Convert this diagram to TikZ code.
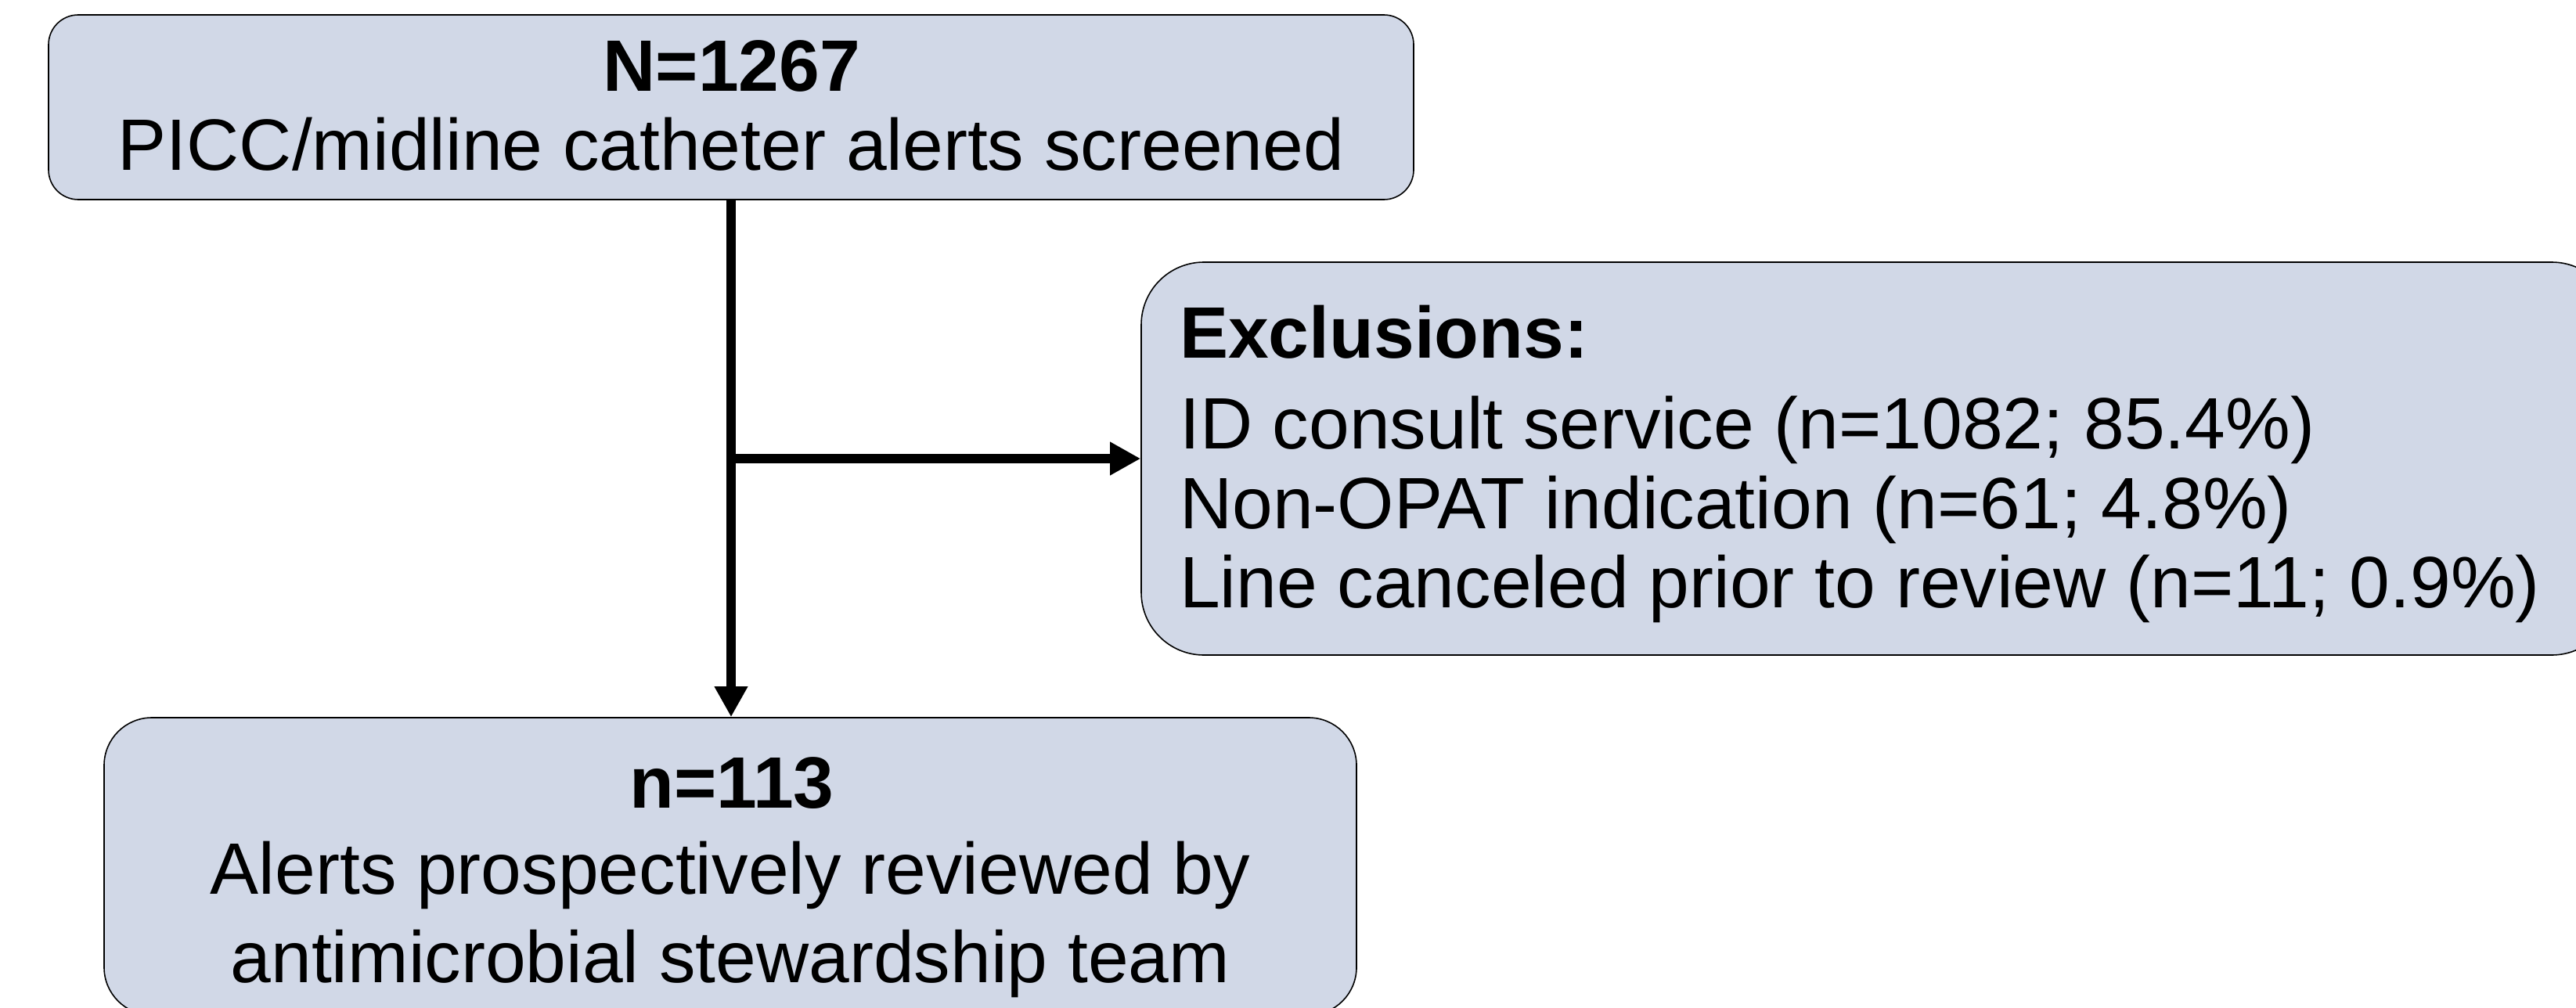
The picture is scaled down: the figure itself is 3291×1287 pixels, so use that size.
\documentclass[tikz,border=0pt]{standalone}
\usepackage{fontspec}
\setmainfont{Liberation Sans}
\usetikzlibrary{arrows.meta}
\definecolor{boxfill}{HTML}{D1D8E7}
\tikzset{
  flowbox/.style={draw=black, line width=1.6pt, fill=boxfill, inner sep=0pt},
  lbl/.style={inner sep=0pt, font=\fontsize{93}{100}\selectfont},
  conn/.style={line width=12pt, -{Triangle[length=39pt,width=40pt]}}
}
\begin{document}
\begin{tikzpicture}[x=1pt,y=-1pt]
\useasboundingbox (0,0) rectangle (3291,1287);
\fill[white] (0,0) rectangle (3291,1287);

% boxes
\node[flowbox, rounded corners=38pt, minimum width=1744pt, minimum height=236pt] (screened) at (934,137) {};
\node[flowbox, rounded corners=80pt, minimum width=1882pt, minimum height=502pt] (excl) at (2399,586) {};
\node[flowbox, rounded corners=61pt, minimum width=1600pt, minimum height=380pt] (reviewed) at (933,1107) {};

% texts of the top box
\node[lbl, anchor=base, font=\fontsize{93}{100}\selectfont\bfseries] (t1) at (935,117) {N=1267};
\node[lbl, anchor=base] (t2) at (934,217) {PICC/midline catheter alerts screened};

% texts of the exclusion box
\node[lbl, anchor=base west, font=\fontsize{93}{100}\selectfont\bfseries] (e0) at (1507,457) {Exclusions:};
\node[lbl, anchor=base west] (e1) at (1507,573) {ID consult service (n=1082; 85.4\%)};
\node[lbl, anchor=base west] (e2) at (1507,675) {Non-OPAT indication (n=61; 4.8\%)};
\node[lbl, anchor=base west] (e3) at (1507,776) {Line canceled prior to review (n=11; 0.9\%)};

% texts of the bottom box
\node[lbl, anchor=base, font=\fontsize{93}{100}\selectfont\bfseries] (b1) at (935,1032) {n=113};
\node[lbl, anchor=base] (b2) at (933,1142) {Alerts prospectively reviewed by};
\node[lbl, anchor=base] (b3) at (933,1255) {antimicrobial stewardship team};

% connectors
\coordinate (branch) at (screened.south |- excl.west);
\draw[conn] (screened.south) -- (screened.south |- reviewed.north);
\draw[conn] (branch) -- (excl.west);
\end{tikzpicture}
\end{document}
